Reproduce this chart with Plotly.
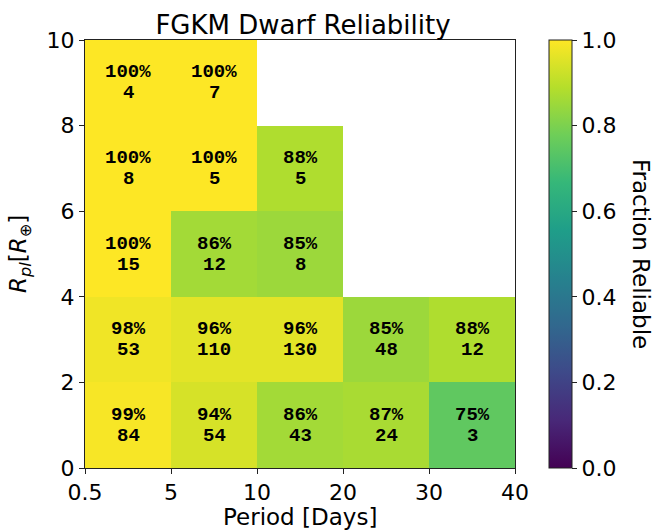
import numpy as np
import plotly.graph_objects as go

# Period bin edges (days) and planet-radius bin edges (Earth radii)
period_edges = ["0.5", "5", "10", "20", "30", "40"]
radius_edges = [0, 2, 4, 6, 8, 10]

# Reliability fraction per cell, rows ordered from smallest radius bin upward
reliability = [
    [0.99, 0.94, 0.86, 0.87, 0.75],
    [0.98, 0.96, 0.96, 0.85, 0.88],
    [1.00, 0.86, 0.85, None, None],
    [1.00, 1.00, 0.88, None, None],
    [1.00, 1.00, None, None, None],
]

# Number of candidates per cell
counts = [
    [84, 54, 43, 24, 3],
    [53, 110, 130, 48, 12],
    [15, 12, 8, None, None],
    [8, 5, 5, None, None],
    [4, 7, None, None, None],
]

cbar_ticks = [0.0, 0.2, 0.4, 0.6, 0.8, 1.0]

# Plot-area geometry in pixels
W, H = 668, 531
L, R, T, B = 85, 515, 40, 468
pw, ph = R - L, B - T

n_x = len(period_edges) - 1
n_y = len(radius_edges) - 1
x_centers = [i + 0.5 for i in range(n_x)]
y_centers = [(radius_edges[j] + radius_edges[j + 1]) / 2 for j in range(n_y)]

z = np.array([[np.nan if v is None else v for v in row] for row in reliability], dtype=float)

TICK_FONT = dict(family="DejaVu Sans", size=22, color="black")
LABEL_FONT = dict(family="DejaVu Sans", size=23, color="black")
CELL_FONT = dict(family="Liberation Mono", size=19, color="black", weight="bold")

fig = go.Figure(
    go.Heatmap(
        x=x_centers,
        y=y_centers,
        z=z,
        colorscale="Viridis",
        zmin=0,
        zmax=1,
        hoverongaps=False,
        colorbar=dict(
            thickness=23,
            len=1.0,
            lenmode="fraction",
            y=0.5,
            yanchor="middle",
            x=(549 - L) / pw,
            xref="paper",
            xanchor="left",
            xpad=0,
            ypad=0,
            outlinecolor="#222",
            outlinewidth=1,
            tickmode="array",
            tickvals=cbar_ticks,
            ticktext=[f"{v:.1f}" for v in cbar_ticks],
            ticks="outside",
            ticklen=5,
            tickcolor="#222",
            tickfont=TICK_FONT,
        ),
    )
)

# Two-line cell labels: reliability percentage above, candidate count below
cell_labels = []
for j, (rrow, crow) in enumerate(zip(reliability, counts)):
    for i, (r, c) in enumerate(zip(rrow, crow)):
        if r is None:
            continue
        cell_labels.append(dict(text=f"{round(r * 100)}%", x=x_centers[i], y=y_centers[j],
                                yshift=10.5, showarrow=False, font=CELL_FONT))
        cell_labels.append(dict(text=f"{c}", x=x_centers[i], y=y_centers[j],
                                yshift=-10.5, showarrow=False, font=CELL_FONT))

axis_common = dict(
    showline=True,
    linecolor="#222",
    linewidth=1,
    mirror=True,
    ticks="outside",
    ticklen=5,
    tickcolor="#222",
    showgrid=False,
    zeroline=False,
    tickfont=TICK_FONT,
    automargin=False,
)

fig.update_layout(
    width=W,
    height=H,
    margin=dict(l=L, r=W - R, t=T, b=H - B, autoexpand=False),
    paper_bgcolor="white",
    plot_bgcolor="white",
    title=dict(
        text="FGKM Dwarf Reliability",
        x=303 / W,
        xanchor="center",
        y=1 - 25 / H,
        yanchor="middle",
        font=dict(family="DejaVu Sans", size=26, color="black"),
    ),
    xaxis=dict(
        range=[0, n_x],
        tickmode="array",
        tickvals=list(range(n_x + 1)),
        ticktext=period_edges,
        **axis_common,
    ),
    yaxis=dict(
        range=[radius_edges[0], radius_edges[-1]],
        tickmode="array",
        tickvals=radius_edges,
        ticktext=[str(v) for v in radius_edges],
        **axis_common,
    ),
    annotations=cell_labels + [
        dict(
            text="Period [Days]",
            xref="paper", yref="paper",
            x=0.5, y=-(517 - B) / ph,
            xanchor="center", yanchor="middle",
            showarrow=False, font=LABEL_FONT,
        ),
        dict(
            text="<i>R</i><sub><i>pl</i></sub>[<i>R</i><sub>⊕</sub>]",
            xref="paper", yref="paper",
            x=-(L - 20) / pw, y=0.5,
            xanchor="center", yanchor="middle", textangle=-90,
            showarrow=False, font=LABEL_FONT,
        ),
        dict(
            text="Fraction Reliable",
            xref="paper", yref="paper",
            x=(641 - L) / pw, y=0.5,
            xanchor="center", yanchor="middle", textangle=90,
            showarrow=False, font=LABEL_FONT,
        ),
    ],
)

fig.write_html("out.html")
